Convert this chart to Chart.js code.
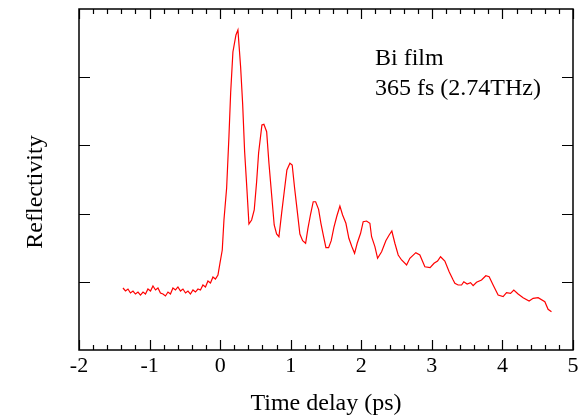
<!DOCTYPE html>
<html>
<head>
<meta charset="utf-8">
<script src="https://cdn.jsdelivr.net/npm/chart.js@4.4.1/dist/chart.umd.min.js"></script>
<style>
  html, body { margin: 0; padding: 0; background: #fff; }
  #wrap { width: 583px; height: 420px; position: relative; }
</style>
</head>
<body>
<div id="wrap"><canvas id="c"></canvas></div>
<script>
// time delay (ps)
const times = [
  -1.377, -1.341, -1.306, -1.271, -1.235, -1.200, -1.164, -1.129, -1.093, -1.058,
  -1.023, -0.987, -0.952, -0.916, -0.881, -0.846, -0.810, -0.775, -0.739, -0.704,
  -0.669, -0.633, -0.598, -0.562, -0.527, -0.491, -0.456, -0.421, -0.385, -0.350,
  -0.314, -0.279, -0.244, -0.208, -0.173, -0.137, -0.102, -0.067, -0.031,
  -0.003, 0.030, 0.054, 0.092, 0.125, 0.149, 0.181, 0.224, 0.252, 0.290,
  0.319, 0.347, 0.380, 0.408, 0.446, 0.483, 0.517, 0.545, 0.592, 0.620,
  0.659, 0.691, 0.729, 0.766, 0.800, 0.833, 0.871, 0.908, 0.946, 0.989,
  1.021, 1.055, 1.092, 1.130, 1.169, 1.211, 1.244, 1.282, 1.319, 1.353,
  1.395, 1.428, 1.466, 1.499, 1.537, 1.574, 1.612, 1.654, 1.697, 1.735,
  1.782, 1.824, 1.867, 1.905, 1.942, 1.990, 2.027, 2.075, 2.122, 2.146,
  2.193, 2.231, 2.288, 2.348, 2.395, 2.433, 2.476, 2.523, 2.571, 2.642,
  2.688, 2.773, 2.830, 2.901, 2.975, 3.031, 3.081, 3.123, 3.184, 3.245,
  3.302, 3.326, 3.372, 3.421, 3.453, 3.500, 3.548, 3.585, 3.633, 3.704,
  3.765, 3.812, 3.868, 3.939, 4.010, 4.058, 4.115, 4.161, 4.222, 4.293,
  4.378, 4.435, 4.506, 4.601, 4.647, 4.695
];

// reflectivity (arb. units)
const reflectivity = [
  0.909, 0.865, 0.894, 0.836, 0.865, 0.821, 0.850, 0.806, 0.850, 0.821,
  0.894, 0.865, 0.938, 0.880, 0.909, 0.836, 0.821, 0.792, 0.850, 0.821,
  0.909, 0.880, 0.924, 0.865, 0.894, 0.836, 0.865, 0.821, 0.880, 0.850,
  0.894, 0.880, 0.953, 0.924, 1.012, 0.982, 1.070, 1.041, 1.100,
  1.271, 1.466, 1.906, 2.375, 3.138, 3.773, 4.370, 4.619, 4.692, 4.154,
  3.607, 2.908, 2.346, 1.848, 1.906, 2.053, 2.468, 2.889, 3.299, 3.309,
  3.201, 2.746, 2.283, 1.833, 1.701, 1.661, 2.004, 2.321, 2.639, 2.738,
  2.713, 2.375, 2.043, 1.701, 1.603, 1.565, 1.784, 1.994, 2.174, 2.174,
  2.063, 1.858, 1.661, 1.500, 1.500, 1.603, 1.799, 1.965, 2.111, 1.979,
  1.858, 1.638, 1.515, 1.418, 1.565, 1.711, 1.881, 1.891, 1.858, 1.661,
  1.515, 1.345, 1.441, 1.603, 1.686, 1.745, 1.565, 1.393, 1.320, 1.246,
  1.345, 1.427, 1.393, 1.221, 1.207, 1.271, 1.305, 1.368, 1.305, 1.148,
  1.026, 0.978, 0.953, 0.953, 1.001, 0.968, 0.987, 0.943, 0.993, 1.026,
  1.089, 1.075, 0.953, 0.806, 0.782, 0.840, 0.831, 0.880, 0.821, 0.767,
  0.718, 0.758, 0.767, 0.708, 0.597, 0.562
];

const xTicks = [-2, -1, 0, 1, 2, 3, 4, 5];
const yTicks = [1, 2, 3, 4];
const annotationLines = ['Bi film', '365 fs (2.74THz)'];
const yTitle = 'Reflectivity';

const serif = '"Liberation Serif", "Times New Roman", serif';

// frame, inward ticks, y title and the text block
const framePlugin = {
  id: 'frame',
  afterDraw(chart) {
    const { ctx, chartArea: a, scales } = chart;
    const xs = scales.x, ys = scales.y;
    ctx.save();
    ctx.strokeStyle = '#000';
    ctx.lineWidth = 1.5;
    ctx.strokeRect(a.left, a.top, a.right - a.left, a.bottom - a.top);

    ctx.lineWidth = 1.2;
    ctx.beginPath();
    for (let v = xs.min; v <= xs.max + 1e-9; v += 0.2) {
      const px = Math.round(xs.getPixelForValue(v)) + 0.5;
      const major = Math.abs(v - Math.round(v)) < 1e-6;
      const len = major ? 10 : 5;
      ctx.moveTo(px, a.bottom); ctx.lineTo(px, a.bottom - len);
      ctx.moveTo(px, a.top); ctx.lineTo(px, a.top + len);
    }
    for (const v of yTicks) {
      const py = Math.round(ys.getPixelForValue(v)) + 0.5;
      ctx.moveTo(a.left, py); ctx.lineTo(a.left + 11, py);
      ctx.moveTo(a.right, py); ctx.lineTo(a.right - 11, py);
    }
    ctx.stroke();

    ctx.fillStyle = '#000';
    ctx.font = '24px ' + serif;
    ctx.textBaseline = 'alphabetic';
    ctx.textAlign = 'left';
    ctx.fillText(annotationLines[0], 375, 65);
    ctx.fillText(annotationLines[1], 375, 95);

    ctx.translate(42, 192);
    ctx.rotate(-Math.PI / 2);
    ctx.textAlign = 'center';
    ctx.fillText(yTitle, 0, 0);
    ctx.restore();
  }
};

new Chart(document.getElementById('c'), {
  type: 'line',
  data: {
    datasets: [{
      data: times.map((t, i) => ({ x: t, y: reflectivity[i] })),
      borderColor: '#ff0000',
      borderWidth: 1.2,
      pointRadius: 0,
      tension: 0,
      fill: false
    }]
  },
  options: {
    responsive: true,
    maintainAspectRatio: false,
    animation: false,
    layout: { padding: { left: 0, right: 10, top: 9, bottom: 0 } },
    plugins: { legend: { display: false }, tooltip: { enabled: false } },
    scales: {
      x: {
        type: 'linear',
        min: -2,
        max: 5,
        afterBuildTicks(scale) { scale.ticks = xTicks.map(v => ({ value: v })); },
        afterFit(scale) { scale.height = 70; },
        grid: { display: false, drawTicks: false },
        border: { display: false },
        ticks: {
          color: '#000',
          font: { family: serif, size: 22 },
          padding: 3,
          maxRotation: 0,
          autoSkip: false
        },
        title: {
          display: true,
          text: 'Time delay (ps)',
          color: '#000',
          font: { family: serif, size: 24 },
          padding: { top: 0, bottom: 2 },
          align: 'center'
        }
      },
      y: {
        type: 'linear',
        min: 0,
        max: 5,
        afterFit(scale) { scale.width = 79; },
        grid: { display: false, drawTicks: false },
        border: { display: false },
        ticks: { display: false }
      }
    }
  },
  plugins: [framePlugin]
});
</script>
</body>
</html>
